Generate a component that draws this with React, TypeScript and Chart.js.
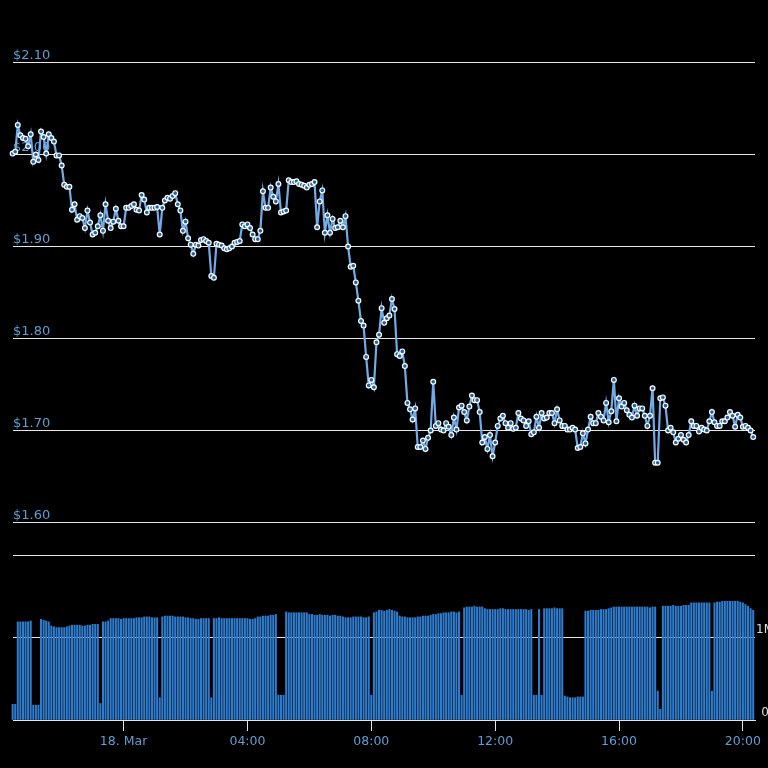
import React, { useEffect, useRef } from 'react';
import { Chart, registerables } from 'chart.js';

Chart.register(...registerables);

// Time grid: minutes relative to 18 Mar 00:00, one sample every 5 minutes from 17 Mar 20:25
const START_MINUTE = -215;
const STEP_MINUTES = 5;
const X_MIN = -214.3;
const X_MAX = 1223.5;

const priceValues: number[] = [
  2.001, 2.003, 2.032, 2.021, 2.018, 2.017, 2.009, 2.022, 1.992, 2.000,
  1.994, 2.025, 2.019, 2.001, 2.022, 2.018, 2.014, 1.999, 1.999, 1.988,
  1.967, 1.965, 1.965, 1.940, 1.946, 1.929, 1.933, 1.931, 1.920, 1.939,
  1.926, 1.913, 1.915, 1.922, 1.934, 1.917, 1.946, 1.928, 1.920, 1.927,
  1.941, 1.928, 1.922, 1.922, 1.942, 1.942,
  1.944, 1.946, 1.940, 1.939, 1.956, 1.951, 1.937, 1.942, 1.942, 1.942,
  1.943, 1.913, 1.942, 1.950, 1.953, 1.952, 1.955, 1.958, 1.946, 1.939,
  1.917, 1.927, 1.909,
  1.902, 1.892, 1.902, 1.901, 1.907, 1.908, 1.906, 1.904, 1.868, 1.866,
  1.903, 1.902, 1.901, 1.898, 1.897, 1.898, 1.900, 1.904, 1.905, 1.906,
  1.924, 1.922, 1.924, 1.920, 1.913, 1.908, 1.908, 1.917, 1.960, 1.942,
  1.942, 1.964, 1.954, 1.949, 1.968, 1.937, 1.938, 1.939, 1.972, 1.970,
  1.970, 1.971, 1.968, 1.967, 1.966, 1.964, 1.967, 1.968, 1.970, 1.921,
  1.949, 1.961, 1.915, 1.934, 1.915, 1.930, 1.920, 1.921, 1.928, 1.921,
  1.933, 1.900, 1.878, 1.879, 1.861, 1.841, 1.819, 1.814, 1.780, 1.749,
  1.755, 1.747, 1.796, 1.804, 1.833, 1.817, 1.822, 1.825, 1.843, 1.832,
  1.783, 1.781, 1.786, 1.770, 1.730, 1.723, 1.712, 1.724, 1.682,
  1.682, 1.689, 1.680, 1.692, 1.700, 1.753, 1.705, 1.708, 1.701, 1.700,
  1.708, 1.704, 1.695, 1.714, 1.701, 1.725, 1.727, 1.720, 1.711, 1.726,
  1.738, 1.733, 1.733, 1.720, 1.687, 1.693, 1.680, 1.695, 1.672, 1.687,
  1.705, 1.713, 1.716, 1.708, 1.703, 1.708, 1.702, 1.703, 1.719, 1.713,
  1.711, 1.705, 1.710, 1.696, 1.698, 1.715, 1.703, 1.719, 1.713, 1.714,
  1.719, 1.719, 1.708, 1.723, 1.711, 1.705, 1.705, 1.701, 1.701, 1.703,
  1.701, 1.681, 1.682, 1.697, 1.686, 1.701, 1.715, 1.708, 1.708, 1.719,
  1.715, 1.711, 1.730, 1.709, 1.721, 1.755, 1.710, 1.735, 1.726, 1.730,
  1.722, 1.717, 1.714, 1.727, 1.716, 1.724, 1.724, 1.716, 1.705, 1.716,
  1.746, 1.665, 1.665, 1.735, 1.736, 1.727, 1.700, 1.703, 1.698, 1.687,
  1.691, 1.695, 1.690, 1.687, 1.695, 1.710, 1.705, 1.705, 1.699, 1.703,
  1.701, 1.700, 1.710, 1.720, 1.709, 1.705, 1.705, 1.710, 1.710, 1.714,
  1.720, 1.716, 1.704, 1.717, 1.714, 1.704, 1.705, 1.703, 1.700, 1.693,
];

// 24h volume in millions of USD
const volumeValues: number[] = [
  0.19, 0.19,
  1.19, 1.19, 1.19, 1.19, 1.19, 1.20,
  0.18, 0.18, 0.18,
  1.22, 1.21, 1.20, 1.19,
  1.14, 1.13, 1.12, 1.12, 1.12, 1.12, 1.13,
  1.14, 1.15, 1.15, 1.15, 1.15, 1.14, 1.14, 1.15, 1.15, 1.16, 1.16, 1.16,
  0.20,
  1.19, 1.19, 1.20,
  1.23, 1.23, 1.23, 1.23, 1.22, 1.23, 1.23, 1.23, 1.23, 1.23, 1.24, 1.24, 1.24, 1.25, 1.25, 1.25, 1.24, 1.24,
  1.24,
  0.27,
  1.25, 1.26, 1.26, 1.26, 1.26, 1.25, 1.25, 1.25, 1.25, 1.24, 1.24, 1.23, 1.23, 1.22, 1.22,
  1.23, 1.23, 1.23, 1.23,
  0.27,
  1.23, 1.23, 1.24, 1.23, 1.23, 1.23, 1.23, 1.23, 1.23, 1.23, 1.23, 1.23, 1.23, 1.23, 1.22,
  1.22, 1.23, 1.25, 1.25, 1.26, 1.26, 1.26, 1.27, 1.27, 1.28,
  0.30, 0.30, 0.30,
  1.31, 1.30, 1.30, 1.30, 1.30, 1.30, 1.30, 1.30, 1.30,
  1.28, 1.28, 1.27, 1.27, 1.28, 1.27, 1.27, 1.27, 1.26, 1.27, 1.27, 1.26, 1.26, 1.25,
  1.24, 1.24, 1.24, 1.25, 1.25, 1.25, 1.25, 1.24, 1.24, 1.25,
  0.30,
  1.30, 1.31, 1.33, 1.33, 1.32, 1.33, 1.34, 1.33, 1.32, 1.31,
  1.26, 1.25, 1.25, 1.24, 1.24, 1.24, 1.24, 1.25, 1.25, 1.26, 1.26, 1.26, 1.27,
  1.28, 1.28, 1.29, 1.29, 1.30, 1.30, 1.30, 1.31, 1.31, 1.30, 1.31,
  0.30,
  1.36, 1.37, 1.37, 1.37, 1.38, 1.37, 1.37, 1.37,
  1.35, 1.34, 1.34, 1.34, 1.34, 1.34, 1.35, 1.35, 1.34, 1.34, 1.34, 1.34, 1.34, 1.34, 1.34, 1.34, 1.34, 1.33, 1.34,
  0.30, 0.30,
  1.34,
  0.30,
  1.35, 1.35, 1.35, 1.35, 1.36, 1.35, 1.35, 1.35,
  0.29, 0.28, 0.27, 0.27, 0.27, 0.28, 0.28, 0.28,
  1.32, 1.32, 1.33, 1.33, 1.33, 1.33, 1.34, 1.34, 1.34, 1.35,
  1.36, 1.37, 1.37, 1.37, 1.37, 1.37, 1.37, 1.37, 1.37, 1.37, 1.37, 1.37, 1.37, 1.37, 1.37, 1.36, 1.37, 1.37,
  0.35, 0.13,
  1.38, 1.38, 1.38, 1.38, 1.39, 1.38, 1.38, 1.38, 1.39, 1.39, 1.39,
  1.42, 1.42, 1.42, 1.42, 1.42, 1.42, 1.42, 1.42,
  0.35,
  1.42, 1.43, 1.43, 1.44, 1.44, 1.44, 1.44, 1.44, 1.44, 1.44, 1.43, 1.42,
  1.40, 1.38, 1.35, 1.33,
];

const timeTickValues = [0, 240, 480, 720, 960, 1200];
const timeTickLabels = ['18. Mar', '04:00', '08:00', '12:00', '16:00', '20:00'];
const volumeTickValues = [0, 1, 2];
const volumeTickLabels = ['0', '1M', ''];

const GRID = '#e6e6e6';
const LABEL_BLUE = '#5b9fd4';
const FONT = 'DejaVu Sans';

export default function App() {
  const priceRef = useRef<HTMLCanvasElement | null>(null);
  const volRef = useRef<HTMLCanvasElement | null>(null);

  useEffect(() => {
    const timeOf = (i: number) => START_MINUTE + i * STEP_MINUTES;

    const priceChart = new Chart(priceRef.current as HTMLCanvasElement, {
      type: 'line',
      data: {
        datasets: [
          {
            data: priceValues.map((v, i) => ({ x: timeOf(i), y: v })),
            borderColor: '#72abe8',
            borderWidth: 2.2,
            pointRadius: 2.4,
            pointBackgroundColor: '#1f63a8',
            pointBorderColor: '#ffffff',
            pointBorderWidth: 1.2,
            tension: 0,
            clip: false as any,
          },
        ],
      },
      options: {
        responsive: false,
        animation: false,
        devicePixelRatio: 1,
        layout: { padding: { left: 13, right: 13, top: 62.5, bottom: 245.5 } },
        plugins: { legend: { display: false }, tooltip: { enabled: false } },
        scales: {
          x: { type: 'linear', display: false, min: X_MIN, max: X_MAX },
          y: {
            type: 'linear',
            min: 1.6,
            max: 2.1,
            afterFit: (s: any) => {
              s.width = 0;
            },
            border: { display: false },
            grid: { color: GRID, lineWidth: 1, drawTicks: false },
            ticks: {
              stepSize: 0.1,
              mirror: true,
              padding: 0,
              labelOffset: -7,
              color: LABEL_BLUE,
              font: { family: FONT, size: 13 },
              callback: (v: any) => '$' + Number(v).toFixed(2),
            },
          },
        },
      },
    });

    const volChart = new Chart(volRef.current as HTMLCanvasElement, {
      type: 'bar',
      data: {
        datasets: [
          {
            data: volumeValues.map((v, i) => ({ x: timeOf(i), y: v })),
            backgroundColor: '#2f7bcc',
            borderWidth: 0,
            barThickness: 1.4,
            clip: false as any,
          } as any,
        ],
      },
      options: {
        responsive: false,
        animation: false,
        devicePixelRatio: 1,
        layout: { padding: { left: 13, right: 0, top: 555, bottom: 0 } },
        plugins: { legend: { display: false }, tooltip: { enabled: false } },
        scales: {
          x: {
            type: 'linear',
            min: X_MIN,
            max: X_MAX,
            offset: false,
            afterFit: (s: any) => {
              s.height = 48;
            },
            afterBuildTicks: (s: any) => {
              s.ticks = timeTickValues.map((v) => ({ value: v }));
            },
            border: { display: true, color: GRID, width: 1 },
            grid: { drawOnChartArea: false, drawTicks: true, tickLength: 11, color: GRID, offset: false },
            ticks: {
              autoSkip: false,
              maxRotation: 0,
              padding: 3,
              color: LABEL_BLUE,
              font: { family: FONT, size: 12.5 },
              callback: (v: any) => {
                const k = timeTickValues.indexOf(Number(v));
                return k >= 0 ? timeTickLabels[k] : '';
              },
            },
          },
          y: {
            type: 'linear',
            position: 'right',
            min: 0,
            max: 2,
            afterFit: (s: any) => {
              s.width = 13;
            },
            afterBuildTicks: (s: any) => {
              s.ticks = volumeTickValues.map((v) => ({ value: v }));
            },
            border: { display: false },
            grid: { color: GRID, lineWidth: 1, drawTicks: false },
            ticks: {
              crossAlign: 'center',
              padding: 1,
              labelOffset: -7.5,
              color: '#dddddd',
              font: { family: FONT, size: 12 },
              callback: (v: any) => {
                const k = volumeTickValues.indexOf(Number(v));
                return k >= 0 ? volumeTickLabels[k] : '';
              },
            },
          },
        },
      },
    });

    return () => {
      priceChart.destroy();
      volChart.destroy();
    };
  }, []);

  const canvasStyle: React.CSSProperties = { position: 'absolute', left: 0, top: 0, width: 768, height: 768 };

  return (
    <div style={{ position: 'fixed', left: 0, top: 0, width: 768, height: 768, background: '#000', overflow: 'hidden' }}>
      <canvas ref={priceRef} width={768} height={768} style={canvasStyle} />
      <canvas ref={volRef} width={768} height={768} style={canvasStyle} />
    </div>
  );
}
